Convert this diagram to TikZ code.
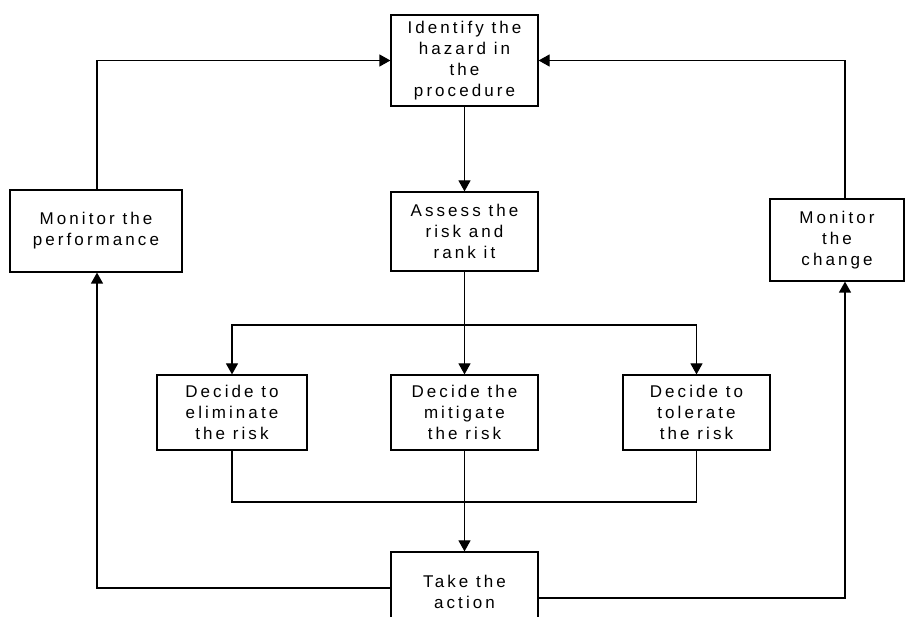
\documentclass[tikz,border=0pt]{standalone}
\usepackage{fontspec}
\setmainfont[LetterSpace=18]{Liberation Sans}
\usetikzlibrary{arrows.meta,calc}
\begin{document}
\begin{tikzpicture}[x=1pt,y=-1pt,
  box/.style={draw,line width=1.2pt,rectangle,align=center,inner sep=0pt,
    font=\fontsize{17}{21}\selectfont},
  conn/.style={line width=1.2pt},
  arr/.style={line width=1.2pt,-{Triangle[length=11pt,width=12pt]}}]
\useasboundingbox (0,0) rectangle (906,617);
\fill[white] (0,0) rectangle (906,617);
\begin{scope}
\clip (0,0) rectangle (906,617);
\node[box,minimum width=147pt,minimum height=91pt] (ident) at (464.5,60.5) {Identify the\\hazard in\\the\\procedure};
\node[box,minimum width=147pt,minimum height=79pt] (assess) at (464.5,231.5) {Assess the\\risk and\\rank it};
\node[box,minimum width=172pt,minimum height=82pt] (monperf) at (96,231) {Monitor the\\performance};
\node[box,minimum width=134pt,minimum height=82pt] (monchg) at (837,240) {Monitor\\the\\change};
\node[box,minimum width=150pt,minimum height=75pt] (dec1) at (232,412.5) {Decide to\\eliminate\\the risk};
\node[box,minimum width=147pt,minimum height=75pt] (dec2) at (464.5,412.5) {Decide the\\mitigate\\the risk};
\node[box,minimum width=147pt,minimum height=75pt] (dec3) at (696.5,412.5) {Decide to\\tolerate\\the risk};
\node[box,minimum width=147pt,minimum height=80pt] (take) at (464.5,592) {Take the\\action};

\coordinate (split) at (464.5,325);
\coordinate (join) at (464.5,502);

\draw[arr] (ident.south) -- (assess.north);
\draw[conn] (assess.south) -- (split);
\draw[arr] (split) -| (dec1.north);
\draw[arr] (split) -- (dec2.north);
\draw[arr] (split) -| (dec3.north);
\draw[conn] (dec1.south) |- (join) -| (dec3.south);
\draw[arr] (dec2.south) -- (take.north);

\draw[arr] ([yshift=4pt]take.west) -| ([xshift=1pt]monperf.south);
\draw[arr] ([xshift=1pt]monperf.north) |- (ident.west);
\draw[arr] ([yshift=-6pt]take.east) -| ([xshift=8pt]monchg.south);
\draw[arr] ([xshift=8pt]monchg.north) |- (ident.east);
\end{scope}
\end{tikzpicture}
\end{document}
